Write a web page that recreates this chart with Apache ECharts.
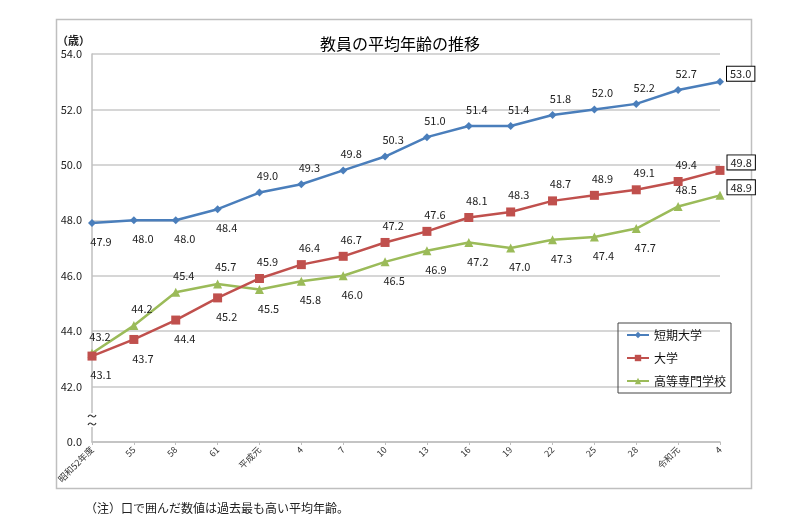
<!DOCTYPE html>
<html>
<head>
<meta charset="utf-8">
<script src="https://cdn.jsdelivr.net/npm/echarts@6/dist/echarts.min.js"></script>
<style>
  html, body { margin: 0; padding: 0; background: #fff; }
  #chart { width: 800px; height: 525px; }
</style>
</head>
<body>
<div id="chart"></div>
<script>
// 年度
var years = ["昭和52年度", "55", "58", "61", "平成元", "4", "7", "10", "13", "16", "19", "22", "25", "28", "令和元", "4"];
// 平均年齢
var tanki = [47.9, 48.0, 48.0, 48.4, 49.0, 49.3, 49.8, 50.3, 51.0, 51.4, 51.4, 51.8, 52.0, 52.2, 52.7, 53.0];
var daigaku = [43.1, 43.7, 44.4, 45.2, 45.9, 46.4, 46.7, 47.2, 47.6, 48.1, 48.3, 48.7, 48.9, 49.1, 49.4, 49.8];
var kosen = [43.2, 44.2, 45.4, 45.7, 45.5, 45.8, 46.0, 46.5, 46.9, 47.2, 47.0, 47.3, 47.4, 47.7, 48.5, 48.9];
var seriesNames = ["短期大学", "大学", "高等専門学校"];

var chart = echarts.init(document.getElementById("chart"));
var font = "'Noto Sans CJK JP', 'Noto Sans', sans-serif";

// ラベルの位置（上・下）と最後の点は枠付き
function withLabels(values, below) {
  return values.map(function (v, i) {
    var last = i === values.length - 1;
    if (last) {
      return {
        value: v,
        label: {
          position: "right",
          offset: [-2, -8],
          borderColor: "#000",
          borderWidth: 1,
          padding: [2, 3, 1, 3],
          backgroundColor: "#fff"
        }
      };
    }
    var b = below(i);
    return {
      value: v,
      label: { position: b ? "bottom" : "top", offset: b ? [9, 4] : [8, -2] }
    };
  });
}

var colors = ["#4a7ebb", "#c0504d", "#9bbb59"];
var symbols = ["diamond", "rect", "triangle"];
var sizes = [8, 9, 9];
var datas = [
  withLabels(tanki, function (i) { return i < 4; }),
  withLabels(daigaku, function (i) { return i < 4; }),
  withLabels(kosen, function (i) { return !(i < 4 || i === 14); })
];

var option = {
  animation: false,
  textStyle: { fontFamily: font },
  title: {
    text: "教員の平均年齢の推移",
    left: "center",
    top: 31,
    textStyle: { fontSize: 16, fontWeight: "normal", color: "#000", fontFamily: font }
  },
  grid: { left: 92, right: 80, top: 54, bottom: 83 },
  legend: {
    orient: "vertical",
    left: 618,
    top: 323,
    itemWidth: 22,
    itemHeight: 8,
    itemGap: 11,
    padding: [6, 5, 6, 8],
    borderColor: "#444",
    borderWidth: 1,
    textStyle: { fontSize: 12, color: "#111" },
    data: seriesNames
  },
  xAxis: {
    type: "category",
    data: years,
    boundaryGap: false,
    axisLine: { lineStyle: { color: "#bfbfbf", width: 1.5 } },
    axisTick: { show: true, length: 3, lineStyle: { color: "#bfbfbf" } },
    axisLabel: { rotate: 45, fontSize: 9, color: "#333", margin: 6, interval: 0 }
  },
  yAxis: {
    type: "value",
    min: 40,
    max: 54,
    interval: 2,
    name: "（歳）",
    nameLocation: "end",
    nameGap: 8,
    nameTextStyle: { fontSize: 11, color: "#222", fontWeight: "bold", align: "right", padding: [0, 2, 0, 0] },
    axisLine: { show: true, lineStyle: { color: "#bfbfbf", width: 1.5 } },
    axisTick: { show: false },
    splitLine: { lineStyle: { color: "#c8c8c8", width: 1.5 } },
    axisLabel: {
      fontSize: 11,
      color: "#222",
      margin: 10,
      formatter: function (v) { return v === 40 ? "0.0" : v.toFixed(1); }
    }
  },
  series: seriesNames.map(function (name, k) {
    return {
      name: name,
      type: "line",
      data: datas[k],
      symbol: symbols[k],
      symbolSize: sizes[k],
      color: colors[k],
      lineStyle: { width: 2.5, color: colors[k] },
      itemStyle: { color: colors[k] },
      label: {
        show: true,
        fontSize: 11,
        color: "#222",
        formatter: function (p) { return p.value.toFixed(1); }
      },
      z: 3 - k
    };
  }),
  graphic: [
    {
      type: "rect",
      shape: { x: 56.5, y: 19.5, width: 695, height: 469 },
      style: { fill: "none", stroke: "#bfbfbf", lineWidth: 1.5 },
      silent: true
    },
    {
      type: "rect",
      shape: { x: 88, y: 413, width: 9, height: 14 },
      style: { fill: "#fff" },
      silent: true,
      z: 10
    },
    {
      type: "bezierCurve",
      shape: { x1: 88, y1: 417, x2: 96, y2: 415, cpx1: 91, cpy1: 411, cpx2: 93, cpy2: 421 },
      style: { stroke: "#333", lineWidth: 1.2, fill: "none" },
      silent: true,
      z: 11
    },
    {
      type: "bezierCurve",
      shape: { x1: 88, y1: 425, x2: 96, y2: 423, cpx1: 91, cpy1: 419, cpx2: 93, cpy2: 429 },
      style: { stroke: "#333", lineWidth: 1.2, fill: "none" },
      silent: true,
      z: 11
    },
    {
      type: "text",
      left: 85,
      top: 502,
      style: { text: "（注）口で囲んだ数値は過去最も高い平均年齢。", fontSize: 12, fill: "#222", fontFamily: font }
    }
  ]
};

chart.setOption(option);
</script>
</body>
</html>
